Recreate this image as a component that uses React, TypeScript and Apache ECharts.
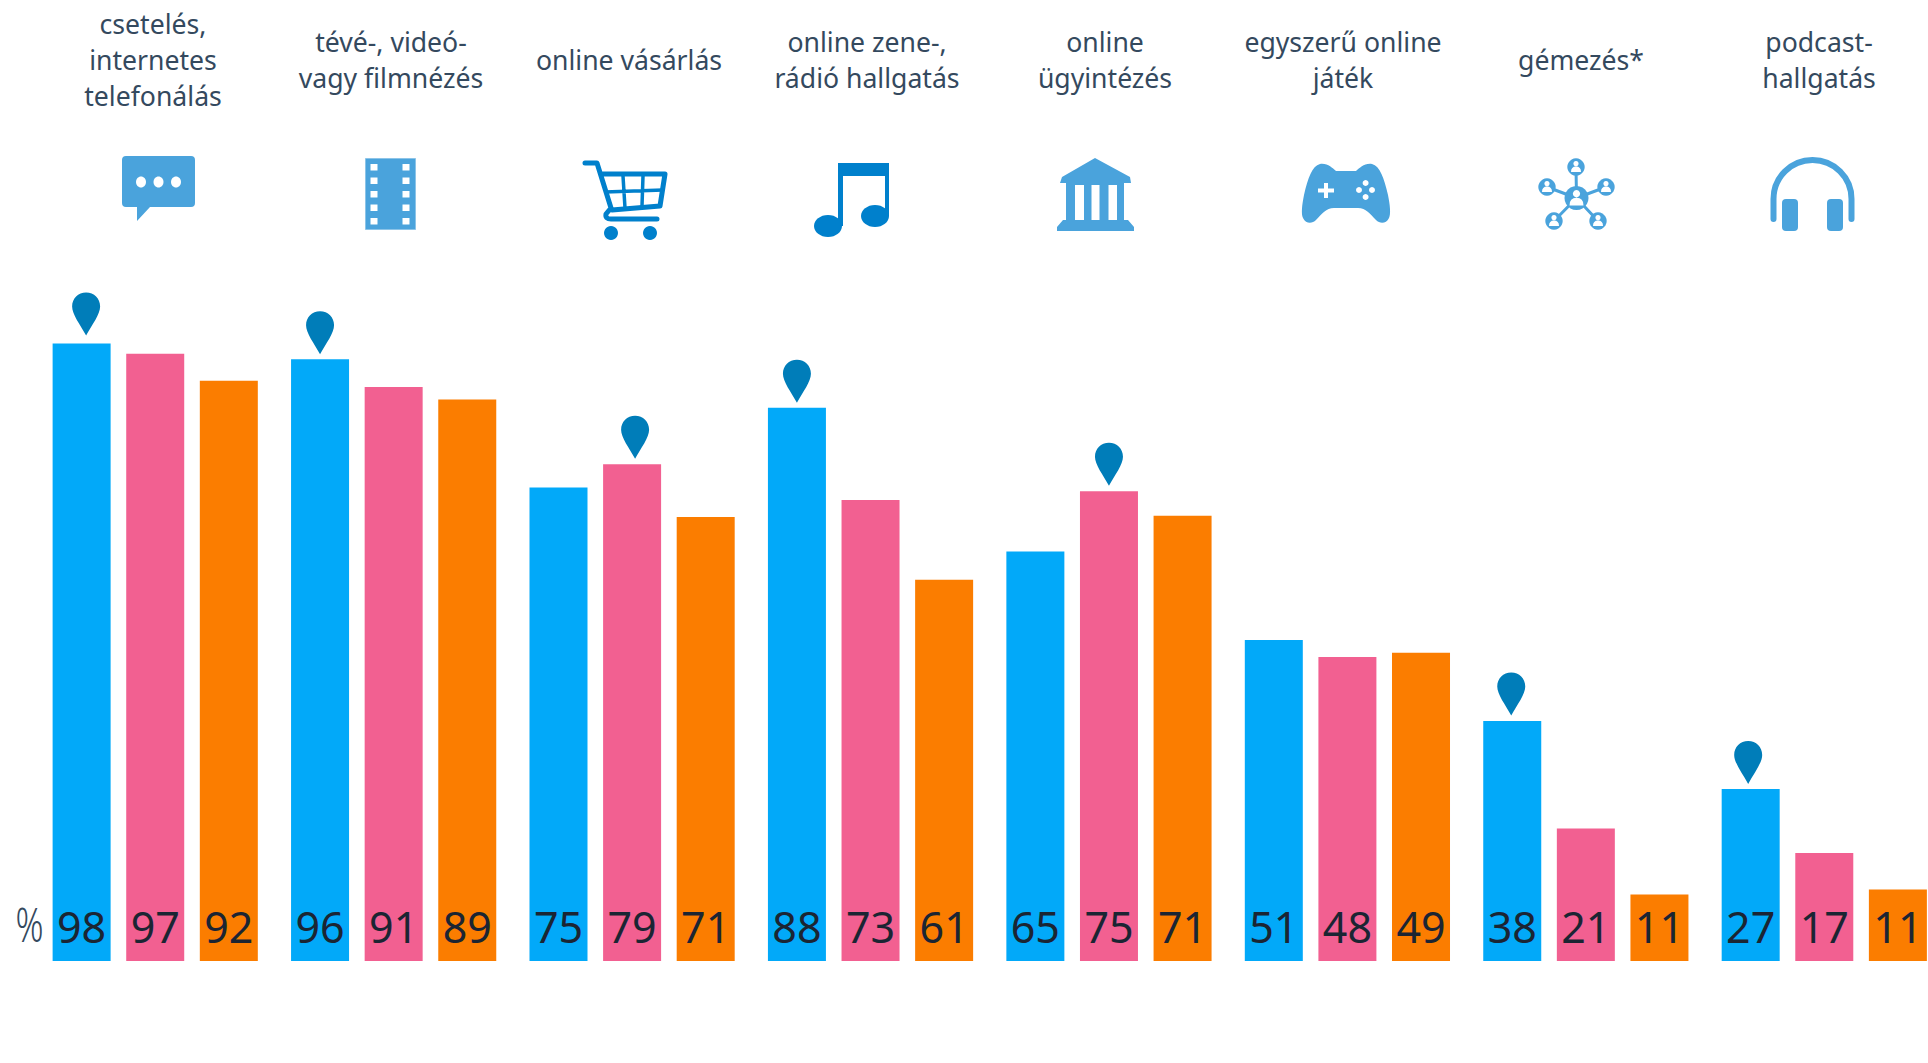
import React, { useEffect, useRef } from "react";
import * as echarts from "echarts";

const headerLabels = [
  "csetelés,\ninternetes\ntelefonálás",
  "tévé-, videó-\nvagy filmnézés",
  "online vásárlás",
  "online zene-,\nrádió hallgatás",
  "online\nügyintézés",
  "egyszerű online\njáték",
  "gémezés*",
  "podcast-\nhallgatás",
];
const categories = headerLabels.map((s) => s.replace(/\n/g, " "));
const blueValues = [98.3, 95.8, 75.4, 88.1, 65.2, 51.1, 38.2, 27.4];
const pinkValues = [96.7, 91.4, 79.1, 73.4, 74.8, 48.4, 21.1, 17.2];
const orangeValues = [92.4, 89.4, 70.7, 60.7, 70.9, 49.1, 10.6, 11.4];
// which of the three bars of a group carries the pin (null: none)
const pinnedBar = [0, 0, 1, 0, 1, null, 0, 0];

const BLUE = "#02A9F9";
const PINK = "#F26091";
const ORANGE = "#FB7D00";
const LIGHT = "#4AA3DC";
const DARK = "#0080CC";
const PIN = "#007DB9";
const TEXT = "#34495E";
const FONT = '"Noto Sans", sans-serif';
const BAR_WIDTH = 58;
const BAR_PITCH = 73.6;
const PIN_NUDGE = [4.5, 0, 3, 0, 0, 0, -1, -2.5];
const PIN_GAP = [8, 5, 5.5, 5, 5.5, 5, 5.5, 5];

const PIN_PATH = "M14 0C22 0 28 6 28 14C28 22 20 32 14 43C8 32 0 22 0 14C0 6 6 0 14 0Z";

const reg = (name: string, d: string) =>
  echarts.graphic.registerShape(name, echarts.graphic.extendPath(d, {}));

reg("icChat", "M126 156L191 156Q195 156 195 160L195 203Q195 207 191 207L150 207L137 221L137 207L126 207Q122 207 122 203L122 160Q122 156 126 156Z");
reg("icCart", "M585 163L597 163L611 208L606 214Q605 219 611 219L657 219M602 174L665 174L660 206L612 210");
reg("icCartGrid", "M623 176L625 208M643 176L642 206M605 192L663 190");
reg("icMusic", "M838 163L889 163L889 216L885 216L885 176L843 176L843 226L838 226Z");
reg("icBank", "M1095 158L1130 177L1131 183L1124 183L1124 220L1128 220L1134 227L1134 231L1057 231L1057 227L1063 220L1066 220L1066 183L1060 183L1062 177Z");
reg("icPad", "M1320 164C1328 163 1332 168 1336 171L1356 171C1360 168 1364 163 1372 164C1380 166 1384 178 1388 195C1390 205 1391 214 1389 218C1386 224 1380 224 1376 220C1370 214 1366 208 1358 208L1334 208C1326 208 1322 214 1316 220C1312 224 1306 224 1303 218C1301 214 1302 205 1304 195C1308 178 1312 166 1320 164Z");
reg("icPhones", "M1773.5 219L1773.5 199A39 39 0 0 1 1851.5 199L1851.5 219");
reg("icNet", "M1576.5 198L1576 167M1576.5 198L1547 187M1576.5 198L1606 187M1576.5 198L1554 221M1576.5 198L1598 221");
reg("icPerson", "M0 -6A2.6 2.6 0 1 1 -0.01 -6ZM-5 5Q-5 -0.5 0 -0.5Q5 -0.5 5 5Z");

const circle = (cx: number, cy: number, r: number, fill: string) => ({ type: "circle", shape: { cx, cy, r }, style: { fill }, silent: true });
const rect = (x: number, y: number, width: number, height: number, fill: string, r = 0, extra = {}) => ({ type: "rect", shape: { x, y, width, height, r }, style: { fill, ...extra }, silent: true });
const ell = (cx: number, cy: number, rx: number, ry: number, fill: string) => ({ type: "ellipse", shape: { cx, cy, rx, ry }, style: { fill }, silent: true });
const shp = (type: string, style: any) => ({ type, x: 0, y: 0, style, silent: true });

function iconElements(): any[] {
  const els: any[] = [];
  // chat
  els.push(shp("icChat", { fill: LIGHT }));
  [141, 158.5, 176].forEach((x) => els.push(ell(x, 182, 5, 5.5, "#fff")));
  // film
  els.push(rect(365.5, 158.5, 50, 71, LIGHT, 0, { stroke: "#8CC4E8", lineWidth: 1 }));
  [167, 180.5, 194, 207.5, 221].forEach((y) => {
    els.push(rect(370.5, y - 3, 7, 6.5, "#fff"));
    els.push(rect(402.5, y - 3, 7, 6.5, "#fff"));
  });
  // cart
  els.push(shp("icCart", { fill: "none", stroke: DARK, lineWidth: 5, lineCap: "round", lineJoin: "round" }));
  els.push(shp("icCartGrid", { fill: "none", stroke: DARK, lineWidth: 3.5 }));
  els.push(circle(611, 233, 7, DARK), circle(650, 233, 7, DARK));
  // music
  els.push(shp("icMusic", { fill: DARK }));
  els.push(ell(828, 226, 14, 11, DARK), ell(875, 216, 14, 11, DARK));
  // bank
  els.push(shp("icBank", { fill: LIGHT }));
  els.push(rect(1075, 185, 9, 35, "#fff"), rect(1091.5, 185, 8, 35, "#fff"), rect(1108.5, 185, 8.5, 35, "#fff"));
  // gamepad
  els.push(shp("icPad", { fill: LIGHT }));
  els.push(rect(1318, 188.5, 16, 4, "#fff"), rect(1324, 183, 4, 15, "#fff"));
  [[1365.6, 183], [1365.6, 197], [1359, 190], [1372, 190]].forEach(([x, y]) => els.push(circle(x, y, 3, "#fff")));
  // network
  els.push(shp("icNet", { fill: "none", stroke: LIGHT, lineWidth: 3 }));
  const nodes = [[1576, 167], [1547, 187], [1606, 187], [1554, 221], [1598, 221]];
  nodes.forEach(([x, y]) => {
    els.push(circle(x, y, 8.7, LIGHT));
    els.push({ type: "icPerson", x, y, scaleX: 1, scaleY: 1, style: { fill: "#fff" }, silent: true });
  });
  els.push(circle(1576.5, 198, 12, LIGHT));
  els.push({ type: "icPerson", x: 1576.5, y: 198.5, scaleX: 1.4, scaleY: 1.4, style: { fill: "#fff" }, silent: true });
  // headphones
  els.push(shp("icPhones", { fill: "none", stroke: LIGHT, lineWidth: 6, lineCap: "round" }));
  els.push(rect(1782, 199, 16, 32, LIGHT, 4), rect(1827, 199, 16, 32, LIGHT, 4));
  // percent sign
  els.push({ type: "text", x: 29.5, y: 923, scaleX: 0.72, silent: true, style: { text: "%", fill: TEXT, font: `300 48px ${FONT}`, align: "center", verticalAlign: "middle" } });
  return els;
}

const barSeries = (name: string, data: number[], color: string) => ({
  name,
  type: "bar",
  xAxisIndex: 0,
  yAxisIndex: 0,
  data,
  barWidth: BAR_WIDTH,
  barGap: `${((BAR_PITCH - BAR_WIDTH) / BAR_WIDTH) * 100}%`,
  itemStyle: { color },
  silent: true,
  label: {
    show: true,
    position: "insideBottom",
    distance: 13,
    color: "#1B2533",
    fontFamily: FONT,
    fontSize: 43,
    formatter: (p: any) => String(Math.round(p.value)),
  },
});

export default function App() {
  const ref = useRef<HTMLDivElement>(null);
  useEffect(() => {
    document.body.style.margin = "0";
    document.body.style.overflow = "hidden";
    const chart = echarts.init(ref.current!, undefined, { renderer: "svg" });
    const groups = [blueValues, pinkValues, orangeValues];
    const pinData = pinnedBar
      .map((b, i) => (b === null ? null : [i, groups[b][i], b, PIN_NUDGE[i], PIN_GAP[i]]))
      .filter(Boolean);
    chart.setOption({
      animation: false,
      backgroundColor: "#fff",
      grid: [
        { left: 36, top: 61, width: 1907.5, height: 900, containLabel: false, outerBoundsMode: "none" },
        { left: 34, top: 60, width: 1904, height: 1, containLabel: false, outerBoundsMode: "none" },
      ],
      xAxis: [
        { type: "category", gridIndex: 0, data: categories, show: false },
        {
          type: "category",
          gridIndex: 1,
          position: "top",
          data: headerLabels,
          axisLine: { show: false },
          axisTick: { show: false },
          axisLabel: {
            show: true,
            interval: 0,
            margin: 0,
            color: TEXT,
            fontFamily: FONT,
            fontSize: 26.6,
            lineHeight: 36,
            align: "center",
            verticalAlign: "middle",
          },
        },
      ],
      yAxis: [
        { type: "value", gridIndex: 0, min: 0, max: 143.3, show: false },
        { type: "value", gridIndex: 1, min: 0, max: 1, show: false },
      ],
      graphic: { elements: iconElements() },
      series: [
        barSeries("kék", blueValues, BLUE),
        barSeries("rózsaszín", pinkValues, PINK),
        barSeries("narancs", orangeValues, ORANGE),
        {
          type: "custom",
          name: "jelölő",
          xAxisIndex: 0,
          yAxisIndex: 0,
          silent: true,
          clip: false,
          encode: { x: 0, y: 1 },
          data: pinData,
          renderItem: (_: any, api: any) => {
            const [cx, cy] = api.coord([api.value(0), api.value(1)]);
            const x = cx + (api.value(2) - 1) * BAR_PITCH + api.value(3);
            return {
              type: "path",
              shape: { pathData: PIN_PATH, x: x - 14, y: cy - api.value(4) - 43, width: 28, height: 43, layout: "cover" },
              style: { fill: PIN },
            };
          },
        },
      ],
    });
    return () => chart.dispose();
  }, []);
  return <div ref={ref} style={{ width: 1928, height: 1063 }} />;
}
